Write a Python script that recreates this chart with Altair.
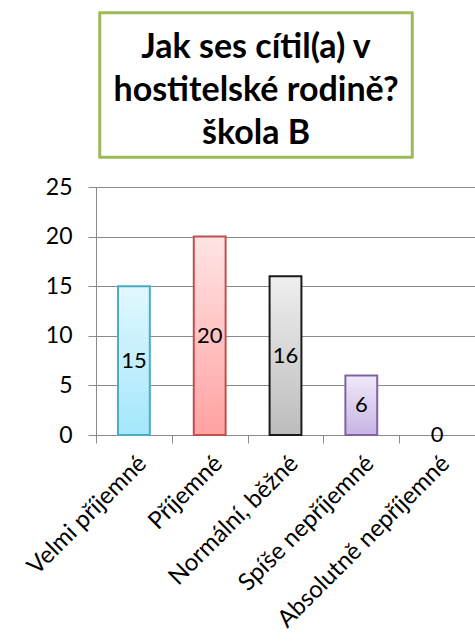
import altair as alt
import pandas as pd

categories = ["Velmi příjemné", "Příjemné", "Normální, běžné", "Spíše nepříjemné", "Absolutně nepříjemné"]
values = [15, 20, 16, 6, 0]
title_lines = ["Jak ses cítil(a) v", "hostitelské rodině?", "škola B"]

fill_top = ["#e2f8fe", "#ffe4e4", "#efefef", "#efe9f8", "#ffffff"]
fill_bottom = ["#a4e7fb", "#ffa2a2", "#bcbcbc", "#c7b5e5", "#ffffff"]
strokes = ["#4bacc6", "#c0504d", "#1a1a1a", "#8064a2", "#000000"]

df = pd.DataFrame({"cat": categories, "val": values})
df["mid"] = df["val"] / 2

FONT = "Lato"

x_enc = alt.X("cat:N", sort=categories, title=None,
              scale=alt.Scale(paddingInner=0, paddingOuter=0),
              axis=alt.Axis(labelAngle=-45, labelAlign="right", labelBaseline="top",
                            labelFontSize=24, labelFont=FONT, labelColor="black",
                            labelPadding=8, labelLimit=400, tickBand="extent", tickSize=8,
                            tickColor="#8a8a8a", domainColor="#8a8a8a", grid=False))
y_enc = alt.Y("val:Q", title=None,
              scale=alt.Scale(domain=[0, 25], nice=False),
              axis=alt.Axis(values=[0, 5, 10, 15, 20, 25], labelFontSize=23, labelFont=FONT,
                            labelColor="black", labelPadding=16, tickSize=8,
                            tickColor="#8a8a8a", domainColor="#8a8a8a",
                            gridColor="#8a8a8a", gridWidth=1))

base = alt.Chart(df)

layers = []
for i, c in enumerate(categories):
    if values[i] <= 0:
        continue
    grad = alt.Gradient(gradient="linear", x1=0, x2=0, y1=0, y2=1,
                        stops=[alt.GradientStop(color=fill_top[i], offset=0),
                               alt.GradientStop(color=fill_bottom[i], offset=1)])
    layers.append(
        base.transform_filter(alt.datum.cat == c)
        .mark_bar(width=alt.RelativeBandSize(0.42), fill=grad, stroke=strokes[i], strokeWidth=2)
        .encode(x=x_enc, y=y_enc)
    )

labels = base.mark_text(fontSize=22, font=FONT, color="black").encode(
    x=alt.X("cat:N", sort=categories),
    y=alt.Y("mid:Q"),
    text=alt.Text("val:Q"),
)

box = base.mark_rect(fill="white", stroke="#9bbb59", strokeWidth=2.5).encode(
    x=alt.value(4), x2=alt.value(316), y=alt.value(-174), y2=alt.value(-30)
)

title_text = base.transform_filter(alt.datum.cat == categories[0]).mark_text(
    fontSize=34, font=FONT, fontWeight="bold", color="black", lineHeight=43,
    baseline="alphabetic", align="center"
).encode(
    x=alt.value(160), y=alt.value(-129), text=alt.value(title_lines)
)

chart = alt.layer(*layers, labels, box, title_text).properties(
    width=379, height=248,
    padding={"left": 96, "top": 187, "right": 0, "bottom": 208},
    autosize=alt.AutoSizeParams(type="none"),
).configure_view(stroke=None)

chart.save("out.html", embed_options={"renderer": "svg", "actions": False})
